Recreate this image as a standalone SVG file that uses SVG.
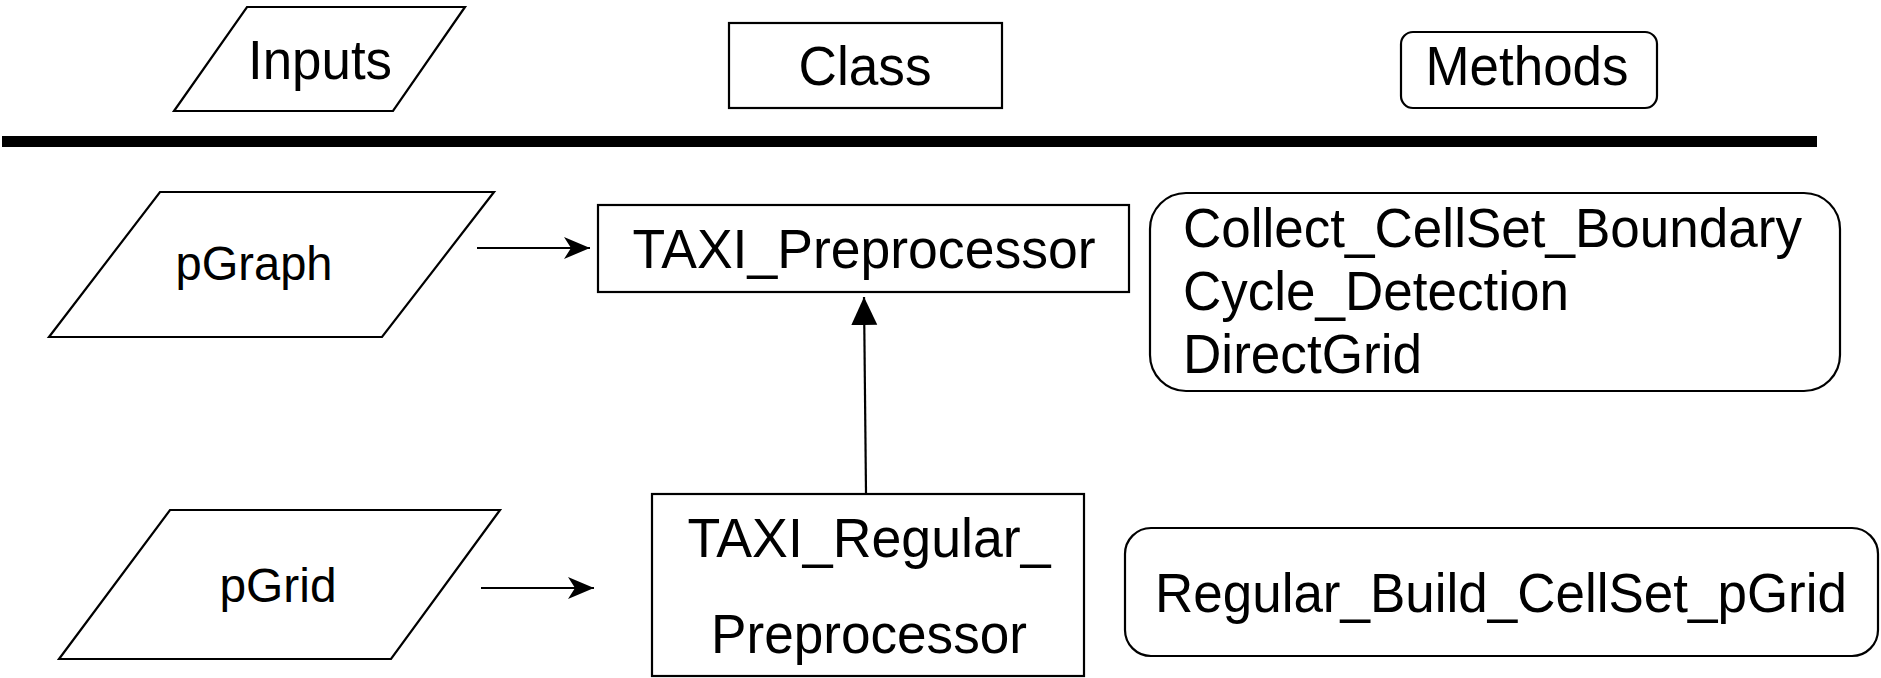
<svg xmlns="http://www.w3.org/2000/svg" width="1881" height="678" viewBox="0 0 1881 678">
  <style>
    .shape { fill: #fff; stroke: #000; stroke-width: 2.2; }
    .lbl { font-family: "Liberation Sans", Arial, sans-serif; font-size: 55px; fill: #000; }
    .mid { text-anchor: middle; }
    .small { font-size: 48px; }
    .edge { stroke: #000; stroke-width: 2.2; fill: none; }
  </style>
  <defs>
    <marker id="stealth" markerUnits="userSpaceOnUse" markerWidth="27" markerHeight="24" refX="26" refY="12" orient="auto">
      <path d="M0,1 L26,12 L0,23 L7,12 Z" fill="#000"/>
    </marker>
    <marker id="tri" markerUnits="userSpaceOnUse" markerWidth="29" markerHeight="28" refX="28" refY="14" orient="auto">
      <path d="M0,1 L28,14 L0,27 Z" fill="#000"/>
    </marker>
  </defs>

  <!-- header row -->
  <g id="hdr-inputs">
    <polygon class="shape" points="247,7 465,7 393,111 174,111"/>
    <text class="lbl mid" x="320" y="79" textLength="144" lengthAdjust="spacingAndGlyphs">Inputs</text>
  </g>
  <g id="hdr-class">
    <rect class="shape" x="729" y="23" width="273" height="85"/>
    <text class="lbl mid" x="865" y="85" textLength="133" lengthAdjust="spacingAndGlyphs">Class</text>
  </g>
  <g id="hdr-methods">
    <rect class="shape" x="1401" y="32" width="256" height="76" rx="12" ry="12"/>
    <text class="lbl mid" x="1527" y="85" textLength="203" lengthAdjust="spacingAndGlyphs">Methods</text>
  </g>
  <g id="divider">
    <rect x="2" y="136" width="1815" height="11" fill="#000"/>
  </g>

  <!-- inputs -->
  <g id="in-pgraph">
    <polygon class="shape" points="160,192 494,192 382,337 49,337"/>
    <text class="lbl small mid" x="254" y="280" textLength="157" lengthAdjust="spacingAndGlyphs">pGraph</text>
  </g>
  <g id="in-pgrid">
    <polygon class="shape" points="170,510 500,510 391,659 59,659"/>
    <text class="lbl small mid" x="278" y="602" textLength="117" lengthAdjust="spacingAndGlyphs">pGrid</text>
  </g>

  <!-- classes -->
  <g id="cls-preprocessor">
    <rect class="shape" x="598" y="205" width="531" height="87"/>
    <text class="lbl mid" x="864" y="268" textLength="463" lengthAdjust="spacingAndGlyphs">TAXI_Preprocessor</text>
  </g>
  <g id="cls-regular">
    <rect class="shape" x="652" y="494" width="432" height="182"/>
    <text class="lbl mid" x="869" y="557" textLength="363" lengthAdjust="spacingAndGlyphs">TAXI_Regular_</text>
    <text class="lbl mid" x="869" y="653" textLength="316" lengthAdjust="spacingAndGlyphs">Preprocessor</text>
  </g>

  <!-- methods -->
  <g id="m-preprocessor">
    <rect class="shape" x="1150" y="193" width="690" height="198" rx="36" ry="36"/>
    <text class="lbl" x="1183" y="247" textLength="619" lengthAdjust="spacingAndGlyphs">Collect_CellSet_Boundary</text>
    <text class="lbl" x="1183" y="310" textLength="386" lengthAdjust="spacingAndGlyphs">Cycle_Detection</text>
    <text class="lbl" x="1183" y="373" textLength="239" lengthAdjust="spacingAndGlyphs">DirectGrid</text>
  </g>
  <g id="m-regular">
    <rect class="shape" x="1125" y="528" width="753" height="128" rx="26" ry="26"/>
    <text class="lbl mid" x="1501" y="612" textLength="692" lengthAdjust="spacingAndGlyphs">Regular_Build_CellSet_pGrid</text>
  </g>

  <!-- connectors -->
  <g id="connectors">
    <line class="edge" x1="477" y1="248" x2="590" y2="248" marker-end="url(#stealth)"/>
    <line class="edge" x1="481" y1="588" x2="594" y2="588" marker-end="url(#stealth)"/>
    <line class="edge" x1="866" y1="493" x2="864" y2="297" marker-end="url(#tri)"/>
  </g>
</svg>
